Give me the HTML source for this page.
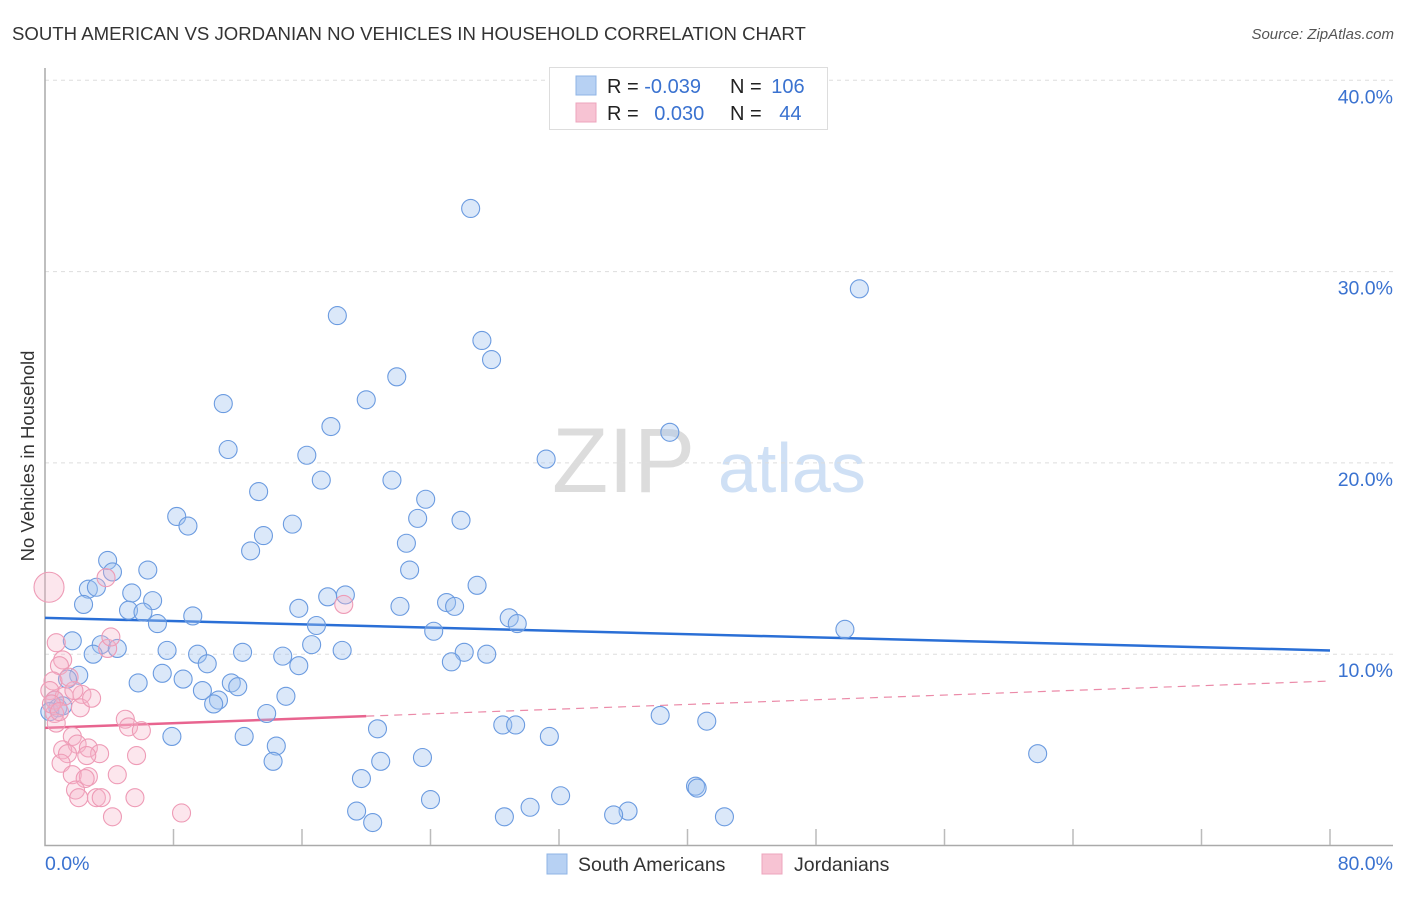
<!DOCTYPE html>
<html><head><meta charset="utf-8"><style>
body{margin:0;background:#fff;font-family:"Liberation Sans",sans-serif}
svg text{font-family:"Liberation Sans",sans-serif}
</style></head><body>
<svg id="chart" width="1406" height="892">
<text x="12" y="40" font-size="18.6" fill="#333">SOUTH AMERICAN VS JORDANIAN NO VEHICLES IN HOUSEHOLD CORRELATION CHART</text>
<text x="1394" y="39" font-size="15" fill="#555" font-style="italic" text-anchor="end">Source: ZipAtlas.com</text>
<g>
<text x="552" y="492" font-size="92" font-family="Liberation Serif" fill="#dcdcdc">ZIP</text>
<text x="718" y="492" font-size="70" fill="#cfe0f5">atlas</text>
</g>
<g id="grid"></g>
<g id="axes"></g>
<g id="lines"></g>
<g id="points"></g>
<text transform="translate(34,456) rotate(-90)" font-size="18.5" fill="#333" text-anchor="middle">No Vehicles in Household</text>
<g>
<rect x="549.5" y="67.5" width="278" height="62" fill="#fff" stroke="#ddd"/>
<rect x="576" y="76" width="20" height="19" fill="#b7d1f3" stroke="#8fb4e6"/>
<rect x="576" y="103" width="20" height="19" fill="#f7c3d3" stroke="#eda5bd"/>
<text x="607" y="93" font-size="20" fill="#222">R = <tspan fill="#3a72d0">-0.039</tspan></text>
<text x="730" y="93" font-size="20" fill="#222">N = <tspan fill="#3a72d0" dx="4">106</tspan></text>
<text x="607" y="120" font-size="20" fill="#222">R = <tspan fill="#3a72d0" dx="10">0.030</tspan></text>
<text x="730" y="120" font-size="20" fill="#222">N = <tspan fill="#3a72d0" dx="12">44</tspan></text>
</g>
<g>
<rect x="547" y="854" width="20" height="20" fill="#b7d1f3" stroke="#8fb4e6"/>
<text x="578" y="871" font-size="19.5" fill="#333">South Americans</text>
<rect x="762" y="854" width="20" height="20" fill="#f7c3d3" stroke="#eda5bd"/>
<text x="794" y="871" font-size="19.5" fill="#333">Jordanians</text>
</g>
</svg>
<script>
const yTicks=[10,20,30,40];
const yTickLabels=["10.0%","20.0%","30.0%","40.0%"];
const xTicks=[8,16,24,32,40,48,56,64,72,80];
const blueX=[26.5,50.7,18.2,27.2,27.8,21.9,20.0,11.1,17.8,38.9,11.4,16.3,31.2,17.2,21.6,13.3,23.7,8.2,23.2,25.9,8.9,15.4,13.6,22.5,12.8,3.9,4.2,6.4,22.7,26.9,2.7,3.2,5.4,18.7,17.6,6.7,2.4,25.0,25.5,5.2,6.1,15.8,22.1,9.2,28.9,7.0,29.4,16.9,49.8,24.2,1.7,3.5,4.5,16.6,7.6,3.0,9.5,18.5,12.3,14.8,26.1,27.5,25.3,15.8,10.1,7.3,8.6,2.1,1.4,5.8,11.6,12.0,9.8,15.0,10.8,10.5,0.6,0.8,0.3,1.1,13.8,38.3,41.2,28.5,29.3,20.7,7.9,12.4,31.4,14.4,61.8,23.5,14.2,20.9,19.7,40.5,40.6,32.1,24.0,30.2,19.4,36.3,35.4,28.6,42.3,20.4];
const blueY=[33.3,29.1,27.7,26.4,25.4,24.5,23.3,23.1,21.9,21.6,20.7,20.4,20.2,19.1,19.1,18.5,18.1,17.2,17.1,17.0,16.7,16.8,16.2,15.8,15.4,14.9,14.3,14.4,14.4,13.6,13.4,13.5,13.2,13.1,13.0,12.8,12.6,12.7,12.5,12.3,12.2,12.4,12.5,12.0,11.9,11.6,11.6,11.5,11.3,11.2,10.7,10.5,10.3,10.5,10.2,10.0,10.0,10.2,10.1,9.9,10.1,10.0,9.6,9.4,9.5,9.0,8.7,8.9,8.7,8.5,8.5,8.3,8.1,7.8,7.6,7.4,7.6,7.2,7.0,7.3,6.9,6.8,6.5,6.3,6.3,6.1,5.7,5.7,5.7,5.2,4.8,4.6,4.4,4.4,3.5,3.1,3.0,2.6,2.4,2.0,1.8,1.8,1.6,1.5,1.5,1.2];
const pinkX=[0.25,3.8,18.6,0.7,3.9,1.1,0.9,0.5,2.3,2.2,0.6,0.7,5.0,5.2,6.0,1.7,2.0,1.1,1.4,2.7,3.4,2.6,5.7,1.0,1.7,2.7,2.5,4.5,1.9,2.1,3.2,3.5,5.6,4.2,8.5,0.3,1.2,0.6,1.8,4.1,0.4,1.5,2.9,0.9];
const pinkY=[13.5,14.0,12.6,10.6,10.3,9.7,9.4,8.6,7.9,7.2,6.9,6.4,6.6,6.2,6.0,5.7,5.3,5.0,4.8,5.1,4.8,4.7,4.7,4.3,3.7,3.6,3.5,3.7,2.9,2.5,2.5,2.5,2.5,1.5,1.7,8.1,7.8,7.6,8.1,10.9,7.4,8.8,7.7,7.0];
const blueTrend=[11.9,-0.0213];
const pinkTrend=[6.15,0.0306];
const pinkSolidEnd=20;
const X=v=>45+v*1285/80, Y=v=>845.5-v*19.13;
const NS="http://www.w3.org/2000/svg";
function mk(p,t,a){const e=document.createElementNS(NS,t);for(const k in a)e.setAttribute(k,a[k]);document.getElementById(p).appendChild(e);return e;}
yTicks.forEach((t,i)=>{
 const g=mk('grid','line',{x1:45,x2:1393,y1:Y(t),y2:Y(t),stroke:'#ddd','stroke-dasharray':'4,4'});
 
 
 const l=mk('grid','text',{x:1393,y:Y(t)+23,'font-size':19.5,fill:'#3a72d0','text-anchor':'end'});
 l.textContent=yTickLabels[i];
 
 
});
const ax=mk('axes','path',{d:'M45,68V845.5H1393',stroke:'#aaa',fill:'none','stroke-width':1.5});


xTicks.forEach(t=>{const e=mk('axes','line',{x1:X(t),x2:X(t),y1:829,y2:845,stroke:'#bbb','stroke-width':1.5});
 
 });
[[0,"0.0%",'start',45],[80,"80.0%",'end',1393]].forEach(d=>{const e=mk('axes','text',{x:d[3],y:870,'font-size':19.5,fill:'#3a72d0','text-anchor':d[2]});e.textContent=d[1];
 
 });
blueX.forEach((x,i)=>{const c=mk('points','circle',{cx:X(x),cy:Y(blueY[i]),r:9,fill:'rgba(160,195,240,0.38)',stroke:'#6b9be0','stroke-width':1.1});
 
 });
pinkX.forEach((x,i)=>{const c=mk('points','circle',{cx:X(x),cy:Y(pinkY[i]),r:i==0?15:9,fill:'rgba(246,178,200,0.33)',stroke:'#ee9bb6','stroke-width':1.1});
 
 });
const bl=mk('lines','line',{x1:X(0),x2:X(80),y1:Y(blueTrend[0]),y2:Y(blueTrend[0]+blueTrend[1]*80),stroke:'#2a6fd6','stroke-width':2.5});


const pl=mk('lines','line',{x1:X(0),x2:X(pinkSolidEnd),y1:Y(pinkTrend[0]),y2:Y(pinkTrend[0]+pinkTrend[1]*pinkSolidEnd),stroke:'#e8648f','stroke-width':2.5});


const pd=mk('lines','line',{x1:X(pinkSolidEnd),x2:X(80),y1:Y(pinkTrend[0]+pinkTrend[1]*pinkSolidEnd),y2:Y(pinkTrend[0]+pinkTrend[1]*80),stroke:'#eb8aa8','stroke-width':1.2,'stroke-dasharray':'8,6'});


</script>
</body></html>
